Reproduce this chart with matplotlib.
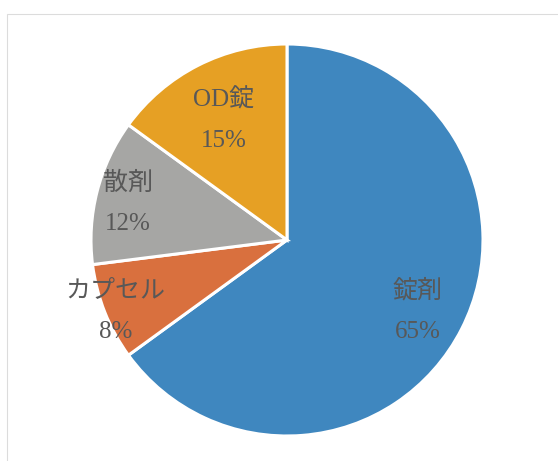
import matplotlib.pyplot as plt
from matplotlib.patches import Rectangle
import numpy as np

labels = ["錠剤", "カプセル", "散剤", "OD錠"]
shares = [65, 8, 12, 15]
colors = ["#3F87BF", "#D9703E", "#A6A6A4", "#E6A024"]
label_dist = [0.75, 0.94, 0.84, 0.71]

W, H = 558, 461
fig = plt.figure(figsize=(W / 100, H / 100), dpi=100)
ax = fig.add_axes([0, 0, 1, 1])

cx, cy, r = 287, H - 240, 196
wedges, _ = ax.pie(shares, colors=colors, startangle=90, counterclock=False,
                   center=(cx, cy), radius=r, frame=True,
                   wedgeprops=dict(edgecolor="white", linewidth=2.2))
ax.set_xlim(0, W)
ax.set_ylim(0, H)
ax.set_aspect("equal")
ax.axis("off")

# faint chart-area frame
ax.add_patch(Rectangle((7, -5), W, H - 14 + 5, fill=False,
                       edgecolor="#dcdcdc", linewidth=0.8))

font = ["Liberation Serif", "Noto Sans CJK JP"]
for w, name, val, d in zip(wedges, labels, shares, label_dist):
    mid = np.deg2rad((w.theta1 + w.theta2) / 2)
    x = cx + d * r * np.cos(mid)
    y = cy + d * r * np.sin(mid) - 4
    ax.text(x, y, f"{name}\n{val}%", ha="center", va="center",
            fontsize=18, color="#585858", family=font, linespacing=2.1)

fig.savefig("out.png", dpi=100)
